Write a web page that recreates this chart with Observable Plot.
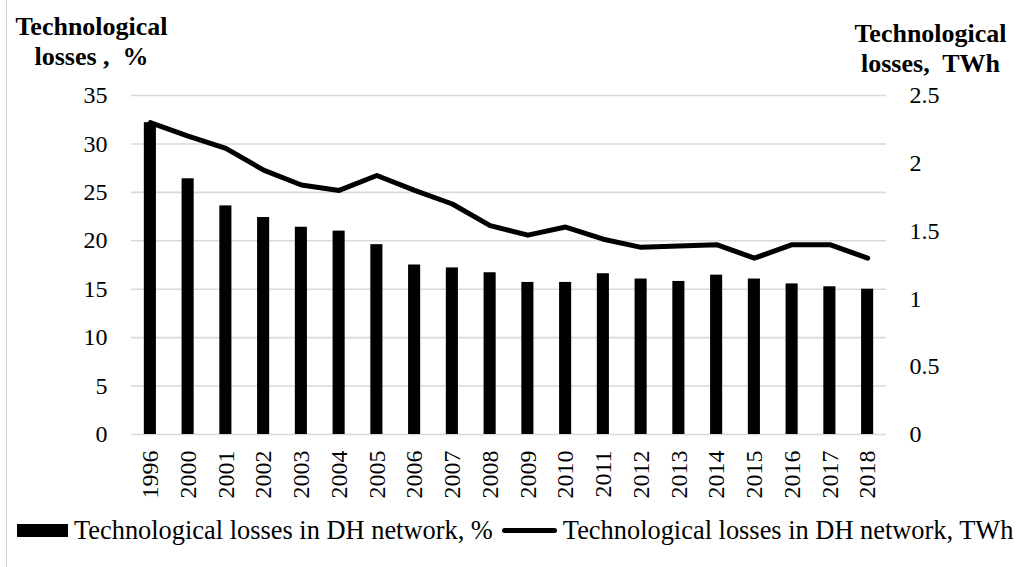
<!DOCTYPE html>
<html>
<head>
<meta charset="utf-8">
<script src="https://cdn.jsdelivr.net/npm/d3@7"></script>
<script src="https://cdn.jsdelivr.net/npm/@observablehq/plot@0.6"></script>
<style>
  html, body { margin: 0; padding: 0; background: #fff; }
  #wrap { position: relative; width: 1019px; height: 567px; overflow: hidden; font-family: "Liberation Serif", "Times New Roman", serif; color: #000; }
  #wrap svg { position: absolute; left: 0; top: 0; }
  .ttl { position: absolute; font-weight: bold; font-size: 26px; line-height: 30px; text-align: center; white-space: nowrap; }
  #border { position: absolute; left: 6px; top: 0; width: 1px; height: 567px; background: #cfcfcf; }
  #legend { position: absolute; left: 17px; top: 515px; height: 30px; font-size: 26.4px; white-space: nowrap; display: flex; align-items: center; }
  .sw-bar { display: inline-block; width: 51px; height: 13px; background: #000; margin-right: 6px; }
  .sw-line { display: inline-block; width: 55px; height: 5px; background: #000; border-radius: 3px; margin: 0 6px 0 9px; }
</style>
</head>
<body>
<div id="wrap">
  <div id="border"></div>
  <div class="ttl" id="tl" style="left:0px; top:12px; width:183px;">Technological<br>losses ,&nbsp; %</div>
  <div class="ttl" id="tr" style="left:840px; top:19px; width:181px;">Technological<br>losses,&nbsp; TWh</div>
  <div id="legend"><span class="sw-bar"></span><span>Technological losses in DH network, %</span><span class="sw-line"></span><span>Technological losses in DH network, TWh</span></div>
</div>
<script>
const years = ["1996","2000","2001","2002","2003","2004","2005","2006","2007","2008","2009","2010","2011","2012","2013","2014","2015","2016","2017","2018"];
const lossesPct = [32.2,26.4,23.6,22.4,21.4,21.0,19.6,17.5,17.2,16.7,15.7,15.7,16.6,16.05,15.8,16.45,16.05,15.55,15.25,15.0];
const lossesTWh = [2.30,2.20,2.11,1.95,1.84,1.80,1.91,1.80,1.70,1.54,1.47,1.53,1.44,1.38,1.39,1.40,1.30,1.40,1.40,1.30];
const pctTicks = [0,5,10,15,20,25,30,35];
const twhTicks = [0,0.5,1,1.5,2,2.5];

const pctMax = 35, twhMax = 2.5;
const k = pctMax / twhMax;
const data = years.map((y, i) => ({year: y, pct: lossesPct[i], twh: lossesTWh[i]}));

const chart = Plot.plot({
  width: 1019,
  height: 567,
  marginTop: 95,
  marginBottom: 133,
  marginLeft: 131,
  marginRight: 133,
  style: {fontFamily: "'Liberation Serif', 'Times New Roman', serif", fontSize: "24px", color: "#000", background: "transparent"},
  x: {type: "band", domain: years, paddingInner: 0.68, paddingOuter: 0.34, round: false},
  y: {domain: [0, pctMax]},
  marks: [
    Plot.gridY(pctTicks, {stroke: "#d9d9d9", strokeOpacity: 1, strokeWidth: 1.6}),
    Plot.barY(data, {x: "year", y: "pct", fill: "#000"}),
    Plot.line(data, {x: "year", y: d => d.twh * k, stroke: "#000", strokeWidth: 5, strokeLinejoin: "round", strokeLinecap: "round"}),
    Plot.axisY(pctTicks, {anchor: "left", tickSize: 0, tickPadding: 24, label: null, fill: "#000", fontSize: 24}),
    Plot.axisY(twhTicks.map(t => t * k), {anchor: "right", tickSize: 0, tickPadding: 23, label: null, tickFormat: d => String(+(d / k).toFixed(2)), fill: "#000", fontSize: 24}),
    Plot.axisX({tickRotate: -90, tickSize: 0, tickPadding: 16, label: null, fill: "#000", fontSize: 24})
  ]
});
document.getElementById("wrap").appendChild(chart);
</script>
</body>
</html>
